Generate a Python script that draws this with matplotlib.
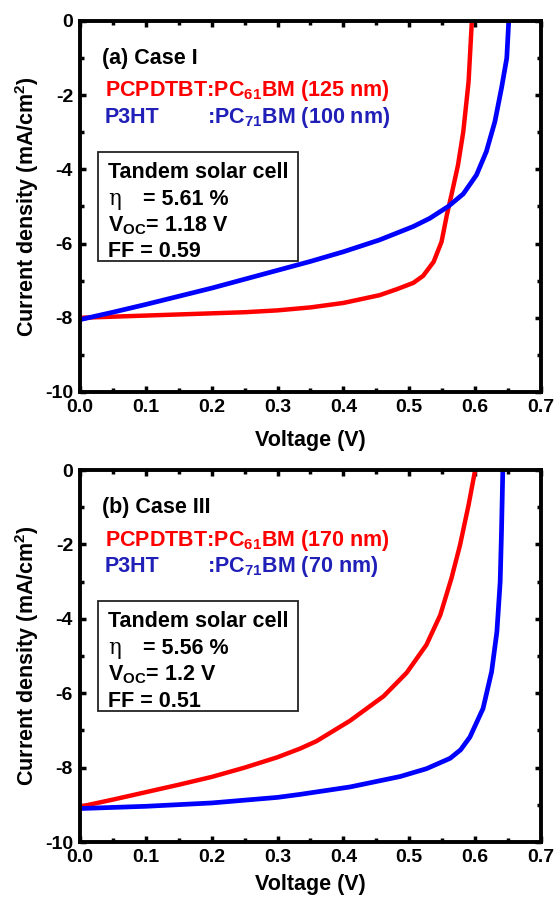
import matplotlib
matplotlib.use("Agg")
import matplotlib.pyplot as plt
from matplotlib.patches import Rectangle
from matplotlib.ticker import MultipleLocator

plt.rcParams['font.family'] = ['Liberation Sans', 'DejaVu Sans']
plt.rcParams['font.weight'] = 'bold'
plt.rcParams['axes.labelweight'] = 'bold'
plt.rcParams['mathtext.fontset'] = 'custom'
plt.rcParams['mathtext.rm'] = 'Liberation Sans:bold'
plt.rcParams['mathtext.it'] = 'Liberation Sans:bold'
plt.rcParams['mathtext.bf'] = 'Liberation Sans:bold'

# case I curves (voltage V, current density mA/cm2)
v_red_a = [0.00, 0.05, 0.10, 0.15, 0.20, 0.25, 0.30, 0.35, 0.40, 0.455, 0.481, 0.506, 0.521,
           0.537, 0.549, 0.557, 0.564, 0.574, 0.582, 0.590, 0.595]
j_red_a = [-8.00, -7.97, -7.94, -7.91, -7.88, -7.85, -7.80, -7.72, -7.60, -7.39, -7.23, -7.06, -6.87,
           -6.49, -5.95, -5.23, -4.69, -3.88, -2.98, -1.64, 0.0]
v_blue_a = [0.00, 0.05, 0.10, 0.15, 0.20, 0.25, 0.30, 0.35, 0.40, 0.455, 0.506, 0.531, 0.559,
            0.582, 0.602, 0.617, 0.630, 0.640, 0.648, 0.651]
j_blue_a = [-8.05, -7.85, -7.64, -7.42, -7.20, -6.96, -6.72, -6.48, -6.22, -5.90, -5.54, -5.32, -5.00,
            -4.66, -4.15, -3.52, -2.71, -1.81, -1.00, 0.0]

# case III curves
v_red_b = [0.00, 0.05, 0.10, 0.15, 0.20, 0.25, 0.30, 0.334, 0.359, 0.41, 0.461, 0.496, 0.526,
           0.547, 0.564, 0.577, 0.590, 0.600]
j_red_b = [-9.05, -8.86, -8.66, -8.46, -8.25, -8.00, -7.72, -7.49, -7.29, -6.74, -6.08, -5.45, -4.70,
           -3.90, -2.91, -2.02, -0.94, 0.0]
v_blue_b = [0.00, 0.10, 0.20, 0.30, 0.334, 0.41, 0.486, 0.526, 0.562, 0.578, 0.592, 0.612, 0.625,
            0.633, 0.638, 0.640, 0.642]
j_blue_b = [-9.10, -9.04, -8.95, -8.80, -8.72, -8.52, -8.24, -8.03, -7.75, -7.52, -7.18, -6.41, -5.42,
            -4.35, -3.00, -1.66, 0.0]

titles = ['(a) Case I', '(b) Case III']
red_labels = ['PCPDTBT:PC$_{61}$BM (125 nm)', 'PCPDTBT:PC$_{61}$BM (170 nm)']
blue_labels = [':PC$_{71}$BM (100 nm)', ':PC$_{71}$BM (70 nm)']
eta_vals = ['= 5.61 %', '= 5.56 %']
voc_vals = ['V$_{OC}$= 1.18 V', 'V$_{OC}$= 1.2 V']
ff_vals = ['FF = 0.59', 'FF = 0.51']

RED = '#ff0000'
BLUE = '#0000ff'
BLUE_TXT = '#2020b8'

fig = plt.figure(figsize=(5.57, 8.97), dpi=100)
ax_a = fig.add_axes([0.1436, 0.563, 0.8277, 0.4136])
ax_b = fig.add_axes([0.1436, 0.0613, 0.8277, 0.4147])

curves = [(v_red_a, j_red_a, v_blue_a, j_blue_a), (v_red_b, j_red_b, v_blue_b, j_blue_b)]

for i, ax in enumerate([ax_a, ax_b]):
    vr, jr, vb, jb = curves[i]
    ax.plot(vr, jr, color=RED, lw=3.2, solid_joinstyle='round')
    ax.plot(vb, jb, color=BLUE, lw=3.4, solid_joinstyle='round')

    ax.set_xlim(0, 0.7)
    ax.set_ylim(-10, 0)
    ax.xaxis.set_minor_locator(MultipleLocator(0.05))
    ax.yaxis.set_minor_locator(MultipleLocator(1))
    ax.set_xticks([0, 0.1, 0.2, 0.3, 0.4, 0.5, 0.6, 0.7])
    ax.set_xticklabels(['0.0', '0.1', '0.2', '0.3', '0.4', '0.5', '0.6', '0.7'])
    ax.set_yticks([0, -2, -4, -6, -8, -10])
    ax.set_yticklabels(['0', '-2', '-4', '-6', '-8', '-10'])
    ax.tick_params(which='both', direction='in', top=True, right=True, width=2.5)
    ax.tick_params(which='major', length=4.5, labelsize=14, pad=5)
    ax.tick_params(which='minor', length=3)
    for s in ax.spines.values():
        s.set_linewidth(2.8)

    ax.set_xlabel('Voltage (V)', fontsize=15.5, labelpad=10 if i == 0 else 6)
    ax.set_ylabel('Current density (mA/cm$^2$)', fontsize=15.5, labelpad=3)

    ax.text(0.034, -1.15, titles[i], fontsize=15.5, color='black', va='baseline')
    ax.text(0.038, -2.03, red_labels[i], fontsize=15.5, color=RED, va='baseline')
    ax.text(0.038, -2.74, 'P3HT', fontsize=15.5, color=BLUE_TXT, va='baseline')
    ax.text(0.193, -2.74, blue_labels[i], fontsize=15.5, color=BLUE_TXT, va='baseline')

    ax.add_patch(Rectangle((0.028, -6.47), 0.303, 2.95, fill=False, lw=1.3, ec='#222222'))
    ax.text(0.043, -4.23, 'Tandem solar cell', fontsize=15.5, va='baseline')
    ax.text(0.043, -4.95, 'η', fontsize=15.5, fontweight='normal',
            family=['DejaVu Serif'], va='baseline')
    ax.text(0.096, -4.95, eta_vals[i], fontsize=15.5, va='baseline')
    ax.text(0.043, -5.66, voc_vals[i], fontsize=15.5, va='baseline')
    ax.text(0.043, -6.36, ff_vals[i], fontsize=15.5, va='baseline')

fig.savefig('out.png', dpi=100)
